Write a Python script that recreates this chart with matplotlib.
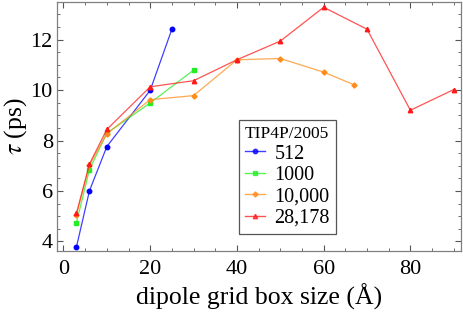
import matplotlib
matplotlib.use("Agg")
import matplotlib.pyplot as plt
from matplotlib.ticker import MultipleLocator
from matplotlib.lines import Line2D

plt.rcParams['font.family'] = ['Liberation Serif', 'DejaVu Serif']
plt.rcParams['mathtext.fontset'] = 'stix'

x512 = [3, 6, 10, 20, 25]
y512 = [3.79, 6.01, 7.76, 9.99, 12.41]

x1000 = [3, 6, 10, 20, 30]
y1000 = [4.75, 6.85, 8.29, 9.49, 10.79]

x10000 = [3, 6, 10, 20, 30, 40, 50, 60, 67]
y10000 = [5.05, 7.03, 8.27, 9.62, 9.78, 11.2, 11.25, 10.71, 10.21]

x28178 = [3, 6, 10, 20, 30, 40, 50, 60, 70, 80, 90]
y28178 = [5.12, 7.07, 8.44, 10.13, 10.37, 11.2, 11.94, 13.28, 12.41, 9.2, 10.02]

labels = ["512", "1000", "10,000", "28,178"]

fig = plt.figure(figsize=(4.63, 3.18), dpi=100)
ax = fig.add_axes([0.123, 0.212, 0.872, 0.781])

series = [
    (x512, y512, '#0000ff', 'o', 3.2),
    (x1000, y1000, '#22ee22', 's', 3.0),
    (x10000, y10000, '#ff8c1a', 'D', 2.6),
    (x28178, y28178, '#ff1a1a', '^', 3.2),
]
for (xs, ys, c, m, ms), lab in zip(series, labels):
    ax.plot(xs, ys, color=c, lw=0.9, alpha=0.75)
    ax.plot(xs, ys, ls='none', marker=m, ms=ms, color=c, mec=c)

handles = [Line2D([0], [0], color=c, lw=1.0, alpha=0.75, marker=m, ms=ms,
                  mfc=c, mec=c) for (_, _, c, m, ms) in series]
leg = ax.legend(handles, labels, title="TIP4P/2005", loc='upper left',
                bbox_to_anchor=(0.451, 0.526), fontsize=14.5, title_fontsize=12.5,
                frameon=True, fancybox=False, framealpha=1, edgecolor='#555555',
                handlelength=1.0, handletextpad=0.45, labelspacing=0.12,
                borderpad=0.3, borderaxespad=0, alignment='left')
leg.get_frame().set_linewidth(0.9)

ax.set_xlim(-1.5, 91.6)
ax.set_ylim(3.64, 13.48)
ax.xaxis.set_major_locator(MultipleLocator(20))
ax.xaxis.set_minor_locator(MultipleLocator(5))
ax.yaxis.set_major_locator(MultipleLocator(2))
ax.yaxis.set_minor_locator(MultipleLocator(0.5))
ax.tick_params(which='both', direction='in', top=True, right=True,
               color='#555555', labelsize=16)
ax.tick_params(axis='x', pad=7)
ax.tick_params(axis='y', pad=3)
ax.tick_params(which='major', length=4, width=0.8)
ax.tick_params(which='minor', length=2.2, width=0.6)
for s in ax.spines.values():
    s.set_color('#808080')
    s.set_linewidth(0.9)

ax.set_xlabel("dipole grid box size (Å)", fontsize=18.5, labelpad=3)
ax.set_ylabel(r"$\tau$ (ps)", fontsize=18.5)
ax.yaxis.set_label_coords(-0.07, 0.5)

fig.savefig("out.png", dpi=100)
